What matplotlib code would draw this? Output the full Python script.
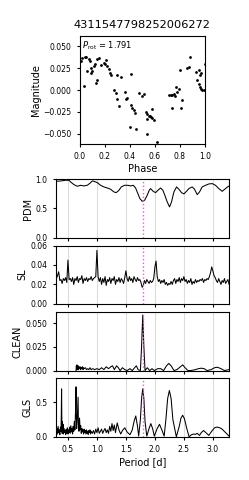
import numpy as np
import matplotlib
matplotlib.use('Agg')
import matplotlib.pyplot as plt

# folded light curve (phase, magnitude)
phase = [0.005, 0.02, 0.04, 0.05, 0.07, 0.08, 0.06, 0.09, 0.10, 0.09, 0.11, 0.12,
         0.14, 0.15, 0.13, 0.14, 0.03, 0.17, 0.19, 0.20, 0.21, 0.22, 0.23, 0.24,
         0.25, 0.30, 0.33, 0.27, 0.29, 0.30, 0.31, 0.36, 0.37, 0.38, 0.41, 0.41,
         0.42, 0.43, 0.44, 0.40, 0.45, 0.47, 0.50, 0.51, 0.53, 0.54, 0.54, 0.55,
         0.56, 0.57, 0.58, 0.59, 0.58, 0.54, 0.62, 0.71, 0.73, 0.74, 0.75, 0.74,
         0.77, 0.78, 0.79, 0.76, 0.81, 0.82, 0.80, 0.86, 0.87, 0.88, 0.93, 0.95,
         0.96, 0.97, 0.94, 0.95, 0.96, 0.97, 0.98, 1.00, 0.99]
mag = [0.033, 0.037, 0.038, 0.038, 0.036, 0.033, 0.022, 0.025, 0.022, 0.020, 0.027, 0.030,
       0.036, 0.037, 0.008, 0.011, 0.005, 0.029, 0.031, 0.030, 0.034, 0.027, 0.024, 0.020,
       0.017, 0.017, 0.015, 0.000, -0.003, -0.010, -0.018, -0.002, -0.010, -0.009, 0.018, -0.017,
       -0.021, -0.023, -0.026, -0.042, -0.045, -0.004, -0.007, -0.005, -0.025, -0.027, -0.033, -0.030,
       -0.030, -0.031, -0.032, -0.034, -0.022, -0.051, -0.060, -0.006, -0.006, -0.006, -0.005, -0.021,
       0.003, -0.002, 0.001, -0.007, -0.021, -0.012, 0.023, 0.025, 0.026, 0.038, 0.021, 0.023,
       0.017, 0.020, 0.011, 0.007, 0.004, 0.001, 0.000, 0.030, 0.000]
p_rot = 1.791
title = '4311547798252006272'

# PDM theta
pdm_p = [0.299, 0.374, 0.460, 0.517, 0.546, 0.603, 0.661, 0.718, 0.776, 0.833, 0.879, 0.920,
         0.948, 1.006, 1.063, 1.121, 1.178, 1.236, 1.293, 1.333, 1.379, 1.420, 1.477, 1.534,
         1.580, 1.626, 1.667, 1.707, 1.741, 1.782, 1.822, 1.868, 1.902, 1.925, 1.971, 2.011,
         2.052, 2.098, 2.138, 2.172, 2.213, 2.253, 2.287, 2.328, 2.374, 2.414, 2.460, 2.500,
         2.546, 2.586, 2.644, 2.684, 2.730, 2.770, 2.816, 2.874, 2.931, 2.989, 3.046, 3.103,
         3.161, 3.218, 3.259, 3.287]
pdm_v = [0.966, 0.971, 0.983, 0.983, 0.954, 0.909, 0.880, 0.897, 0.886, 0.897, 0.931, 0.971,
         0.966, 0.943, 0.897, 0.869, 0.851, 0.829, 0.783, 0.771, 0.811, 0.869, 0.897, 0.897,
         0.886, 0.897, 0.851, 0.754, 0.669, 0.623, 0.640, 0.726, 0.811, 0.840, 0.794, 0.771,
         0.811, 0.851, 0.811, 0.726, 0.611, 0.526, 0.611, 0.783, 0.869, 0.829, 0.771, 0.749,
         0.794, 0.840, 0.869, 0.829, 0.737, 0.783, 0.869, 0.897, 0.920, 0.926, 0.897, 0.840,
         0.794, 0.840, 0.874, 0.886]

# string length, sampled every 0.02 d from 0.30 d
sl_v = [0.026, 0.029, 0.033, 0.024, 0.025, 0.021, 0.026, 0.024, 0.027, 0.022,
        0.045, 0.025, 0.026, 0.023, 0.027, 0.020, 0.026, 0.024, 0.028, 0.022,
        0.026, 0.025, 0.029, 0.021, 0.026, 0.024, 0.027, 0.023, 0.026, 0.025,
        0.028, 0.024, 0.026, 0.027, 0.028, 0.055, 0.028, 0.023, 0.027, 0.020,
        0.026, 0.022, 0.028, 0.019, 0.025, 0.023, 0.027, 0.021, 0.026, 0.024,
        0.028, 0.020, 0.025, 0.023, 0.027, 0.022, 0.026, 0.024, 0.021, 0.027,
        0.034, 0.026, 0.023, 0.028, 0.024, 0.026, 0.022, 0.028, 0.025, 0.023,
        0.027, 0.024, 0.025, 0.022, 0.017, 0.019, 0.024, 0.021, 0.025, 0.023,
        0.021, 0.024, 0.022, 0.023, 0.026, 0.038, 0.044, 0.028, 0.023, 0.025,
        0.021, 0.024, 0.022, 0.025, 0.020, 0.022, 0.019, 0.021, 0.020, 0.023,
        0.020, 0.024, 0.026, 0.021, 0.025, 0.023, 0.027, 0.022, 0.026, 0.024,
        0.028, 0.023, 0.025, 0.021, 0.024, 0.022, 0.026, 0.020, 0.023, 0.021,
        0.025, 0.022, 0.024, 0.023, 0.025, 0.024, 0.026, 0.022, 0.025, 0.024,
        0.026, 0.025, 0.028, 0.032, 0.038, 0.034, 0.029, 0.027, 0.024, 0.022,
        0.026, 0.023, 0.020, 0.024, 0.022, 0.026, 0.021, 0.023, 0.025, 0.020]
sl_p = np.linspace(0.30, 3.28, len(sl_v))

# CLEAN
clean_p = [0.64, 0.645, 0.65, 0.655, 0.66, 0.665, 0.67, 0.675, 0.68, 0.69, 0.70, 0.71,
           0.72, 0.73, 0.74, 0.75, 0.76, 0.77, 0.78, 0.80, 0.82, 0.84, 0.86, 0.88,
           0.90, 0.93, 0.96, 1.00, 1.04, 1.08, 1.12, 1.16, 1.20, 1.24, 1.27, 1.30,
           1.34, 1.37, 1.40, 1.44, 1.48, 1.52, 1.57, 1.61, 1.65, 1.68, 1.71, 1.75,
           1.77, 1.79, 1.81, 1.83, 1.87, 1.91, 1.95, 1.99, 2.05, 2.10, 2.15, 2.20,
           2.24, 2.28, 2.33, 2.38, 2.44, 2.48, 2.52, 2.57, 2.62, 2.70, 2.75, 2.80,
           2.85, 2.90, 2.97, 3.03, 3.08, 3.14, 3.20, 3.28]
clean_v = [0.000, 0.005, 0.002, 0.006, 0.001, 0.004, 0.002, 0.005, 0.001, 0.004, 0.002, 0.004,
           0.001, 0.003, 0.002, 0.004, 0.001, 0.003, 0.002, 0.003, 0.001, 0.002, 0.001, 0.003,
           0.001, 0.002, 0.001, 0.002, 0.001, 0.003, 0.001, 0.004, 0.002, 0.004, 0.005, 0.001,
           0.005, 0.003, 0.000, 0.003, 0.001, 0.000, 0.002, 0.000, 0.003, 0.005, 0.001, 0.000,
           0.025, 0.0585, 0.025, 0.000, 0.003, 0.000, 0.002, 0.000, 0.002, 0.002, 0.000, 0.005,
           0.0075, 0.005, 0.000, 0.001, 0.004, 0.006, 0.003, 0.000, 0.000, 0.001, 0.002, 0.0025,
           0.002, 0.000, 0.001, 0.003, 0.0035, 0.002, 0.000, 0.001]

# GLS
gls_p = [0.30, 0.31, 0.32, 0.33, 0.34, 0.35, 0.36, 0.37, 0.38, 0.385, 0.39, 0.395,
         0.40, 0.405, 0.41, 0.415, 0.42, 0.43, 0.44, 0.45, 0.46, 0.47, 0.48, 0.49,
         0.50, 0.51, 0.52, 0.53, 0.54, 0.55, 0.56, 0.57, 0.58, 0.59, 0.60, 0.61,
         0.62, 0.63, 0.64, 0.645, 0.65, 0.66, 0.67, 0.675, 0.68, 0.69, 0.70, 0.71,
         0.72, 0.73, 0.74, 0.75, 0.76, 0.77, 0.78, 0.79, 0.80, 0.81, 0.82, 0.83,
         0.84, 0.85, 0.86, 0.87, 0.88, 0.89, 0.90, 0.92, 0.94, 0.96, 0.98, 1.00,
         1.02, 1.04, 1.06, 1.08, 1.10, 1.12, 1.14, 1.16, 1.18, 1.20, 1.22, 1.24,
         1.26, 1.28, 1.30, 1.32, 1.35, 1.38, 1.41, 1.44, 1.48, 1.52, 1.57, 1.61,
         1.64, 1.67, 1.70, 1.72, 1.75, 1.77, 1.79, 1.81, 1.83, 1.86, 1.90, 1.93,
         1.96, 1.99, 2.04, 2.08, 2.12, 2.16, 2.19, 2.22, 2.25, 2.28, 2.31, 2.37,
         2.42, 2.45, 2.48, 2.51, 2.55, 2.59, 2.63, 2.67, 2.70, 2.73, 2.77, 2.80,
         2.84, 2.88, 2.93, 2.98, 3.03, 3.07, 3.12, 3.16, 3.22, 3.28]
gls_v = [0.05, 0.12, 0.04, 0.15, 0.06, 0.10, 0.03, 0.14, 0.08, 0.30, 0.69, 0.20,
         0.05, 0.22, 0.10, 0.18, 0.04, 0.12, 0.06, 0.09, 0.03, 0.11, 0.05, 0.13,
         0.04, 0.10, 0.06, 0.14, 0.05, 0.16, 0.07, 0.12, 0.04, 0.15, 0.08, 0.22,
         0.10, 0.35, 0.72, 0.30, 0.12, 0.25, 0.45, 0.57, 0.20, 0.08, 0.27, 0.10,
         0.16, 0.05, 0.12, 0.07, 0.10, 0.04, 0.11, 0.06, 0.09, 0.04, 0.10, 0.05,
         0.08, 0.03, 0.09, 0.06, 0.10, 0.04, 0.08, 0.05, 0.09, 0.04, 0.11, 0.06,
         0.13, 0.05, 0.08, 0.11, 0.05, 0.09, 0.12, 0.06, 0.10, 0.05, 0.15, 0.08,
         0.19, 0.09, 0.17, 0.06, 0.20, 0.10, 0.04, 0.09, 0.13, 0.07, 0.03, 0.10,
         0.22, 0.30, 0.15, 0.01, 0.25, 0.55, 0.69, 0.55, 0.22, 0.01, 0.12, 0.19,
         0.12, 0.01, 0.12, 0.18, 0.10, 0.01, 0.25, 0.55, 0.667, 0.55, 0.25, 0.00,
         0.15, 0.27, 0.31, 0.26, 0.12, 0.00, 0.03, 0.04, 0.035, 0.05, 0.02, 0.06,
         0.09, 0.06, 0.02, 0.08, 0.13, 0.14, 0.13, 0.11, 0.06, 0.01]

fig = plt.figure(figsize=(2.49, 4.80), dpi=100)

# phase-folded curve
ax0 = fig.add_axes([0.321, 0.700, 0.502, 0.225])
ax0.scatter(phase, mag, s=4, c='k', lw=0)
ax0.set_xlim(0, 1)
ax0.set_ylim(-0.062, 0.062)
ax0.set_xticks([0, 0.2, 0.4, 0.6, 0.8, 1.0])
ax0.set_yticks([-0.05, -0.025, 0, 0.025, 0.05])
ax0.tick_params(labelsize=5.5, length=2.5)
ax0.set_xlabel('Phase', fontsize=7, labelpad=2)
ax0.set_ylabel('Magnitude', fontsize=7, labelpad=2)
ax0.set_title(title, fontsize=8.2, pad=6)
ax0.text(0.02, 0.97, r'$P_{\rm rot}$ = %.3f' % p_rot, transform=ax0.transAxes,
         fontsize=6, va='top', ha='left')

# periodograms
names = ['PDM', 'SL', 'CLEAN', 'GLS']
xs = [pdm_p, sl_p, clean_p, gls_p]
ys = [pdm_v, sl_v, clean_v, gls_v]
ylims = [(0, 1.0), (0, 0.06), (0, 0.0615), (0, 0.84)]
yticks = [[0, 0.5, 1.0], [0, 0.02, 0.04, 0.06], [0, 0.025, 0.05], [0, 0.5]]
yfmt = ['%.1f', '%.2f', '%.3f', '%.1f']
bottoms = [0.505, 0.367, 0.228, 0.090]

for i in range(4):
    ax = fig.add_axes([0.224, bottoms[i], 0.696, 0.1215])
    for xv in [0.5, 1.0, 1.5, 2.0, 2.5, 3.0]:
        ax.axvline(xv, color='#dcdcdc', lw=0.8, zorder=0)
    ax.plot(xs[i], ys[i], color='k', lw=0.75)
    ax.axvline(p_rot, color='#f050f0', ls=':', lw=1.0)
    ax.set_xlim(0.29, 3.28)
    ax.set_ylim(ylims[i])
    ax.set_yticks(yticks[i])
    ax.set_yticklabels([yfmt[i] % t for t in yticks[i]])
    ax.set_xticks([0.5, 1.0, 1.5, 2.0, 2.5, 3.0])
    ax.tick_params(labelsize=5.5, length=2.5)
    ax.set_ylabel(names[i], fontsize=7, labelpad=2)
    if i < 3:
        ax.set_xticklabels([])
    else:
        ax.set_xlabel('Period [d]', fontsize=7, labelpad=2)

fig.savefig('out.png', dpi=100)
